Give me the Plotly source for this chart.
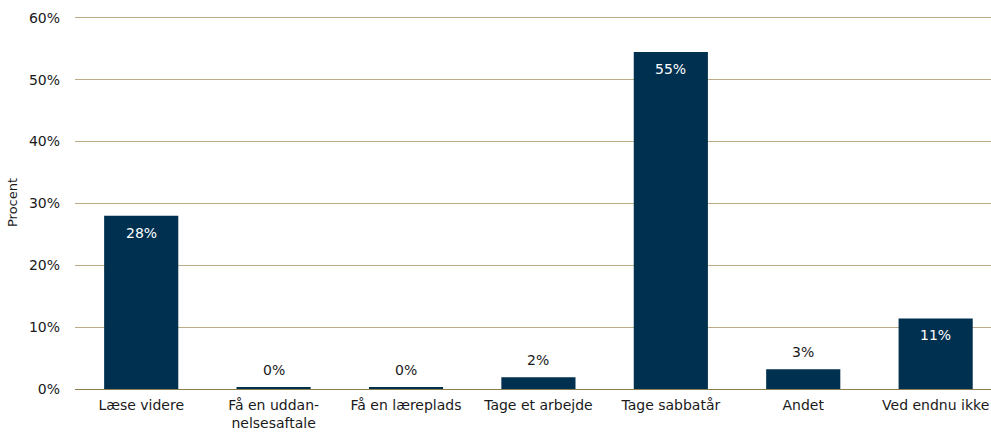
import plotly.graph_objects as go

categories = ["Læse videre", "Få en uddan-<br>nelsesaftale", "Få en læreplads", "Tage et arbejde",
              "Tage sabbatår", "Andet", "Ved endnu ikke"]
values = [28.0, 0.3, 0.3, 1.9, 54.5, 3.2, 11.4]
labels = ["28%", "0%", "0%", "2%", "55%", "3%", "11%"]
inside = [True, False, False, False, True, False, True]
y_ticks = [0, 10, 20, 30, 40, 50, 60]
y_tick_labels = ["0%", "10%", "20%", "30%", "40%", "50%", "60%"]

FONT = "DejaVu Sans"
BAR = "#00304F"
GRID = "#BBAB86"
ZERO = "#8A7E4E"
TXT = "#1a1a1a"

fig = go.Figure()
fig.add_trace(go.Bar(
    x=list(range(len(categories))), y=values,
    marker=dict(color=BAR, line=dict(width=0)),
    hoverinfo="skip",
))
for i, (v, lab, ins) in enumerate(zip(values, labels, inside)):
    fig.add_annotation(
        x=i, y=v, text=lab, showarrow=False, yanchor="middle",
        yshift=-17 if ins else 17,
        font=dict(family=FONT, size=14, color="white" if ins else TXT),
    )
fig.update_layout(
    width=991, height=432,
    margin=dict(l=75, r=0, t=16, b=43),
    paper_bgcolor="white", plot_bgcolor="white",
    bargap=0.44,
    showlegend=False,
    font=dict(family=FONT, size=14, color=TXT),
)
fig.update_xaxes(
    tickmode="array", tickvals=list(range(len(categories))), ticktext=categories,
    range=[-0.5, 6.418], showgrid=False, showline=False, ticks="", ticklabelstandoff=6,
    tickfont=dict(family=FONT, size=14, color=TXT),
)
fig.update_yaxes(
    range=[0, 60.3], tickmode="array", tickvals=y_ticks, ticktext=y_tick_labels,
    showgrid=True, gridcolor=GRID, gridwidth=1, zeroline=True, zerolinecolor=ZERO, zerolinewidth=1,
    showline=False, ticks="", ticklabelstandoff=14,
    tickfont=dict(family=FONT, size=14, color=TXT),
    title=dict(text="Procent", font=dict(family=FONT, size=13, color=TXT), standoff=8),
)
fig.write_html("out.html", config={"displayModeBar": False},
               post_script="document.body.style.margin='0';")
